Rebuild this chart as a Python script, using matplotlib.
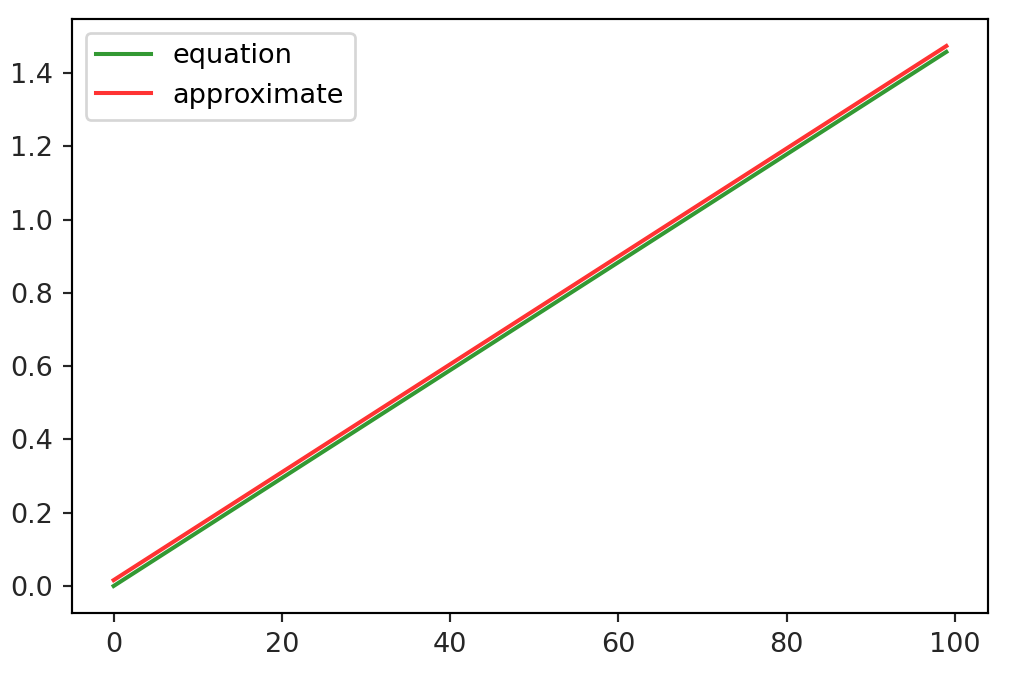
import matplotlib
matplotlib.use("Agg")
import matplotlib.pyplot as plt

x_points = [0, 99]
equation = [0.0, 1.458]
approximate = [0.016, 1.474]
labels = ["equation", "approximate"]

DPI = 195
fig = plt.figure(figsize=(1017 / DPI, 673 / DPI), dpi=DPI)
ax = fig.add_axes([72 / 1017, 1 - 613 / 673, (988 - 72) / 1017, (613 - 19) / 673])
ax.plot(x_points, equation, color="green", alpha=0.8, label=labels[0])
ax.plot(x_points, approximate, color="red", alpha=0.8, label=labels[1])
ax.set_xticks([0, 20, 40, 60, 80, 100])
ax.set_yticks([0.0, 0.2, 0.4, 0.6, 0.8, 1.0, 1.2, 1.4])
ax.tick_params(colors="#262626", labelcolor="#262626")
ax.legend(loc="upper left")
fig.savefig("out.png", dpi=DPI)
